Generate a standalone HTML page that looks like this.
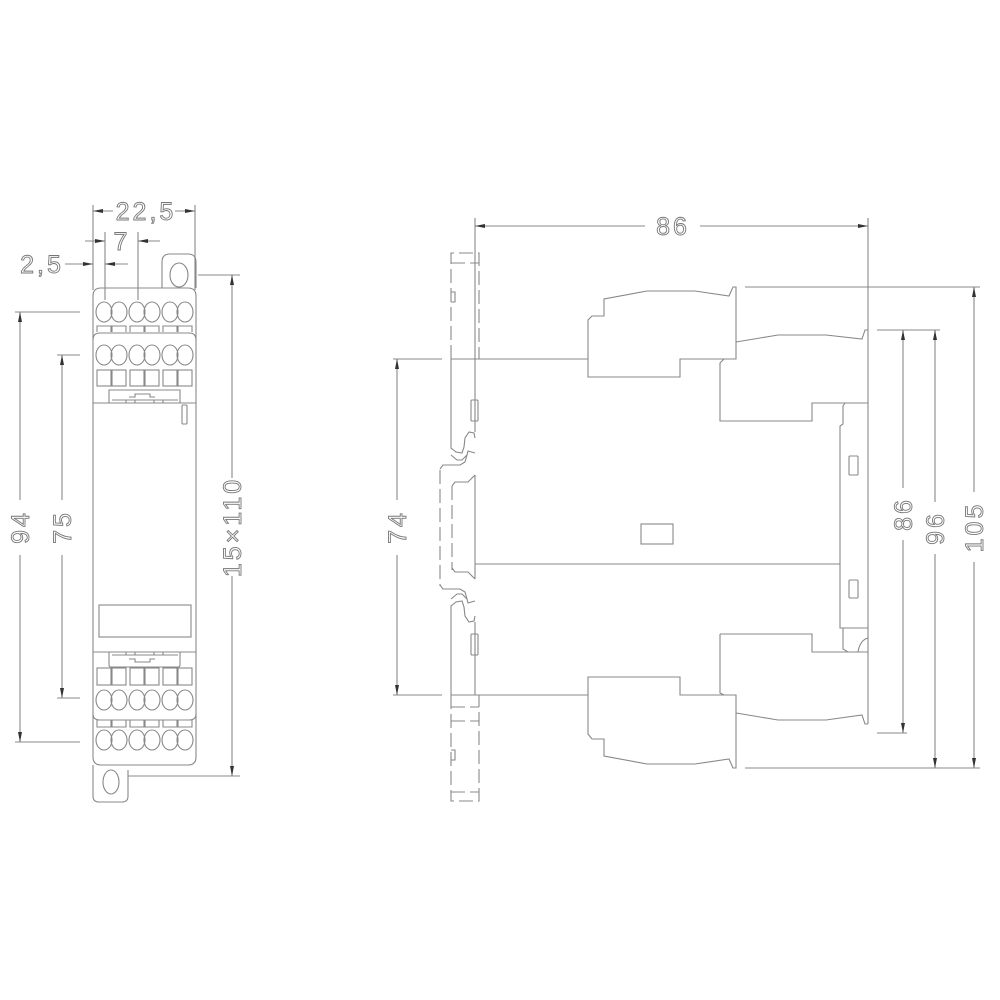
<!DOCTYPE html>
<html><head><style>
html,body{margin:0;padding:0;background:#fff;}
svg{display:block}
text{font-family:"Liberation Sans",sans-serif;font-size:25px;letter-spacing:3px;fill:#fff;stroke:#777;stroke-width:0.9;}
</style></head><body>
<svg width="1000" height="1000" viewBox="0 0 1000 1000" xmlns="http://www.w3.org/2000/svg">
<defs>
<marker id="a" viewBox="0 0 10 4" refX="10" refY="2" markerWidth="10" markerHeight="4" markerUnits="userSpaceOnUse" orient="auto-start-reverse"><path d="M0,0 L10,2 L0,4z" fill="#333"/></marker>
</defs>
<g fill="none" stroke="#888" stroke-width="1.1">
<line x1="93" y1="205" x2="93" y2="290"/><line x1="195" y1="205" x2="195" y2="290"/>
<line x1="93" y1="211" x2="113" y2="211" marker-start="url(#a)"/><line x1="175" y1="211" x2="195" y2="211" marker-end="url(#a)"/>
<line x1="105" y1="232" x2="105" y2="300"/><line x1="138" y1="232" x2="138" y2="300"/>
<line x1="85" y1="241" x2="105" y2="241" marker-end="url(#a)"/><line x1="160" y1="241" x2="138" y2="241" marker-end="url(#a)"/>
<line x1="65" y1="264" x2="93" y2="264" marker-end="url(#a)"/><line x1="128" y1="264" x2="105" y2="264" marker-end="url(#a)"/>
<line x1="15" y1="312" x2="80" y2="312"/><line x1="15" y1="742" x2="80" y2="742"/>
<line x1="20" y1="312" x2="20" y2="500" marker-start="url(#a)"/><line x1="20" y1="555" x2="20" y2="742" marker-end="url(#a)"/>
<line x1="57" y1="355" x2="80" y2="355"/><line x1="57" y1="698" x2="80" y2="698"/>
<line x1="62" y1="355" x2="62" y2="500" marker-start="url(#a)"/><line x1="62" y1="555" x2="62" y2="698" marker-end="url(#a)"/>
<line x1="198" y1="275" x2="240" y2="275"/><line x1="128" y1="776" x2="240" y2="776"/>
<line x1="232" y1="275" x2="232" y2="478" marker-start="url(#a)"/><line x1="232" y1="576" x2="232" y2="776" marker-end="url(#a)"/>
<path d="M93,296 Q93,288 101,288 L188,288 Q196,288 196,296 L196,757 Q196,765 188,765 L101,765 Q93,765 93,757 Z"/>
<path d="M162,288 L162,262 Q162,254 170,254 L188,254 Q196,254 196,262 L196,288"/>
<ellipse cx="179" cy="275" rx="9" ry="12"/>
<path d="M93,765 L93,796 Q93,802 99,802 L122,802 Q128,802 128,796 L128,770"/>
<ellipse cx="111" cy="782" rx="8" ry="12"/>
<g>
<ellipse cx="104" cy="312" rx="8" ry="10"/><ellipse cx="119" cy="312" rx="8" ry="10"/>
<ellipse cx="137" cy="312" rx="8" ry="10"/><ellipse cx="152" cy="312" rx="8" ry="10"/>
<ellipse cx="170" cy="312" rx="8" ry="10"/><ellipse cx="185" cy="312" rx="8" ry="10"/>
<path d="M97,332 L97,326 L111,326 L111,332 M112,332 L112,326 L126,326 L126,332 M130,332 L130,326 L144,326 L144,332 M145,332 L145,326 L159,326 L159,332 M163,332 L163,326 L177,326 L177,332 M178,332 L178,326 L192,326 L192,332"/>
<path d="M93,340 Q93,333 100,333 L189,333 Q196,333 196,340"/>
<ellipse cx="104" cy="355" rx="8" ry="10"/><ellipse cx="119" cy="355" rx="8" ry="10"/>
<ellipse cx="137" cy="355" rx="8" ry="10"/><ellipse cx="152" cy="355" rx="8" ry="10"/>
<ellipse cx="170" cy="355" rx="8" ry="10"/><ellipse cx="185" cy="355" rx="8" ry="10"/>
<rect x="97" y="370" width="14" height="16"/><rect x="112" y="370" width="14" height="16"/>
<rect x="130" y="370" width="14" height="16"/><rect x="145" y="370" width="14" height="16"/>
<rect x="163" y="370" width="14" height="16"/><rect x="178" y="370" width="14" height="16"/>
<path d="M109,403 L109,390 L180,390 L180,403 M112,400 L178,400 M126,400 L126,403 M135,400 L135,403 M154,400 L154,403 M163,400 L163,403 M129,397 L135,397 L135,394 L150,394 L150,397 L155,397"/>
</g>
<line x1="93" y1="403" x2="196" y2="403"/>
<rect x="182" y="405" width="5" height="19" rx="1"/>
<rect x="99" y="605" width="92" height="32"/>
<line x1="93" y1="652" x2="196" y2="652"/>
<path d="M109,652 L109,665 Q109,667 111,667 L178,667 Q180,667 180,665 L180,652 M112,655 L178,655 M126,652 L126,655 M135,652 L135,655 M154,652 L154,655 M163,652 L163,655 M129,659 L135,659 L135,662 L150,662 L150,659 L155,659"/>
<rect x="97" y="668" width="14" height="17"/><rect x="112" y="668" width="14" height="17"/>
<rect x="130" y="668" width="14" height="17"/><rect x="145" y="668" width="14" height="17"/>
<rect x="163" y="668" width="14" height="17"/><rect x="178" y="668" width="14" height="17"/>
<ellipse cx="104" cy="700" rx="8" ry="10"/><ellipse cx="119" cy="700" rx="8" ry="10"/>
<ellipse cx="137" cy="700" rx="8" ry="10"/><ellipse cx="152" cy="700" rx="8" ry="10"/>
<ellipse cx="170" cy="700" rx="8" ry="10"/><ellipse cx="185" cy="700" rx="8" ry="10"/>
<path d="M93,714 Q93,720 100,720 L189,720 Q196,720 196,714"/>
<path d="M97,720 L97,727 L111,727 L111,720 M112,720 L112,727 L126,727 L126,720 M130,720 L130,727 L144,727 L144,720 M145,720 L145,727 L159,727 L159,720 M163,720 L163,727 L177,727 L177,720 M178,720 L178,727 L192,727 L192,720"/>
<ellipse cx="104" cy="740" rx="8" ry="10"/><ellipse cx="119" cy="740" rx="8" ry="10"/>
<ellipse cx="137" cy="740" rx="8" ry="10"/><ellipse cx="152" cy="740" rx="8" ry="10"/>
<ellipse cx="170" cy="740" rx="8" ry="10"/><ellipse cx="185" cy="740" rx="8" ry="10"/>

<line x1="475" y1="218" x2="475" y2="432"/>
<line x1="475" y1="475" x2="475" y2="579"/>
<line x1="475" y1="622" x2="475" y2="695"/>
<line x1="868" y1="218" x2="868" y2="724"/>
<line x1="475" y1="226" x2="645" y2="226" marker-start="url(#a)"/><line x1="700" y1="226" x2="868" y2="226" marker-end="url(#a)"/>
<g stroke-dasharray="14,5">
<path d="M451,359 L451,253 L479,253 L479,359"/>
<path d="M451,263 L479,263"/>
<path d="M451,695 L451,801 L479,801 L479,695"/>
<path d="M451,707 L479,707 M451,721 L479,721 M451,792 L479,792"/>
<path d="M440,470 L440,586 M452,486 L452,570"/>
</g>
<path d="M451,292 L455,292 L455,302 L451,302"/>
<path d="M451,750 L455,750 L455,760 L451,760"/>
<line x1="451" y1="359" x2="588" y2="359"/>
<line x1="451" y1="695" x2="588" y2="695"/>
<line x1="393" y1="359" x2="442" y2="359"/><line x1="393" y1="695" x2="442" y2="695"/>
<line x1="397" y1="359" x2="397" y2="500" marker-start="url(#a)"/><line x1="397" y1="555" x2="397" y2="695" marker-end="url(#a)"/>
<path d="M451,359 L451,448 L456,452 L462,453 L464,447 L465,438 L469,432 L474,433 L475,438"/>
<path d="M451,455 L457,460 L462,460 L467,455 L468,451 L475,453"/>
<path d="M467,455 L465,462 L460,465 L443,465 L440,469"/>
<path d="M475,475 L468,482 L455,482 L452,486"/>
<path d="M451,695 L451,606 L456,602 L462,601 L464,607 L465,616 L469,622 L474,621 L475,616"/>
<path d="M451,599 L457,594 L462,594 L467,599 L468,603 L475,601"/>
<path d="M467,599 L465,592 L460,589 L443,589 L440,585"/>
<path d="M475,579 L468,572 L455,572 L452,568"/>
<rect x="471" y="400" width="7" height="21" rx="1"/>
<rect x="471" y="634" width="7" height="21" rx="1"/>
<rect x="849" y="456" width="9" height="19" rx="1"/>
<rect x="849" y="580" width="9" height="18" rx="1"/>
<rect x="641" y="524" width="32" height="20"/>
<line x1="475" y1="564" x2="840" y2="564"/>
<path d="M588,359 L588,377 L680,377 L680,359 L736,359 L736,287 L733,287 L729,296 L695,291 L647,291 L604,299 L604,316 L592,316 L588,320 L588,359"/>
<path d="M736,342 L778,335 L826,335 L862,339 L865,330 L868,330"/>
<path d="M724,359 L720,363 L720,421 L812,421 L812,403 L868,403"/>
<path d="M845,403 L843,406 L843,424 L840,426 L840,628 L868,628"/>
<path d="M843,628 L843,649 L848,652 L868,652 M858,652 Q860,640 868,638"/>
<path d="M720,634 L812,634 L812,652 L848,652"/>
<path d="M720,634 L720,693 L724,695"/>
<path d="M588,695 L588,734 L592,739 L604,739 L604,756 L647,764 L695,764 L729,759 L733,768 L736,768 L736,695 L680,695 L680,677 L588,677 L588,695"/>
<path d="M736,713 L778,720 L826,720 L862,715 L865,724 L868,724"/>
<line x1="745" y1="287" x2="980" y2="287"/>
<line x1="745" y1="768" x2="980" y2="768"/>
<line x1="877" y1="330" x2="940" y2="330"/>
<line x1="877" y1="733" x2="907" y2="733"/>
<line x1="903" y1="330" x2="903" y2="488" marker-start="url(#a)"/><line x1="903" y1="540" x2="903" y2="733" marker-end="url(#a)"/>
<line x1="935" y1="330" x2="935" y2="502" marker-start="url(#a)"/><line x1="935" y1="554" x2="935" y2="768" marker-end="url(#a)"/>
<line x1="974" y1="287" x2="974" y2="492" marker-start="url(#a)"/><line x1="974" y1="562" x2="974" y2="768" marker-end="url(#a)"/>
</g>
<g>
<text x="146" y="220" text-anchor="middle">22,5</text>
<text x="122" y="250" text-anchor="middle">7</text>
<text x="42" y="273" text-anchor="middle">2,5</text>
<text x="673" y="235" text-anchor="middle">86</text>
<text transform="translate(29,527) rotate(-90)" text-anchor="middle">94</text>
<text transform="translate(71,527) rotate(-90)" text-anchor="middle">75</text>
<text transform="translate(241,527) rotate(-90)" text-anchor="middle">15×110</text>
<text transform="translate(406,527) rotate(-90)" text-anchor="middle">74</text>
<text transform="translate(912,514) rotate(-90)" text-anchor="middle">86</text>
<text transform="translate(944,528) rotate(-90)" text-anchor="middle">96</text>
<text transform="translate(983,527) rotate(-90)" text-anchor="middle">105</text>
</g>
</svg>
</body></html>
